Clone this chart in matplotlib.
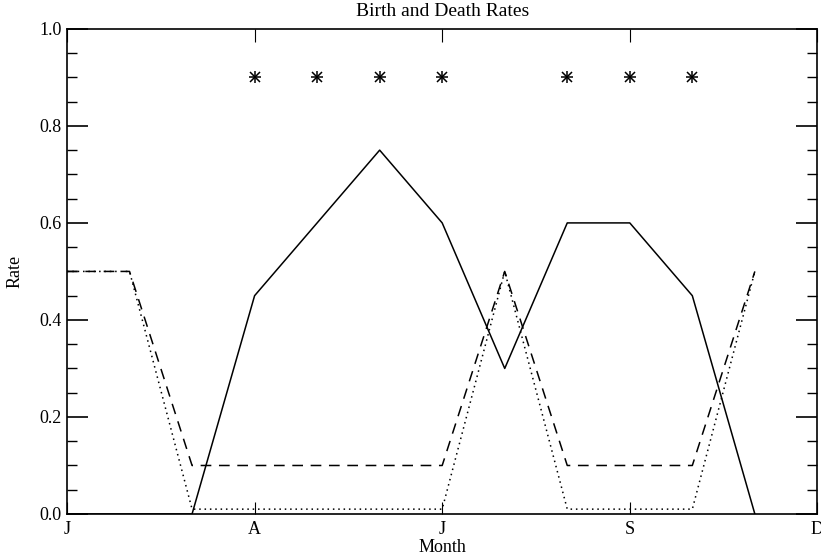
import matplotlib
matplotlib.use("Agg")
import matplotlib.pyplot as plt
from matplotlib.ticker import MultipleLocator

# monthly rates, month index 0..11
months = list(range(12))
birth = [0.0, 0.0, 0.0, 0.45, 0.6, 0.75, 0.6, 0.3, 0.6, 0.6, 0.45, 0.0]
death_a = [0.5, 0.5, 0.1, 0.1, 0.1, 0.1, 0.1, 0.5, 0.1, 0.1, 0.1, 0.5]
death_b = [0.5, 0.5, 0.01, 0.01, 0.01, 0.01, 0.01, 0.5, 0.01, 0.01, 0.01, 0.5]
star_x = [3, 4, 5, 6, 8, 9, 10]
star_y = [0.9] * len(star_x)
tick_pos = [0, 3, 6, 9, 12]
tick_labels = ["J", "A", "J", "S", "D"]

plt.rcParams["font.family"] = ["Liberation Serif", "DejaVu Serif"]

fig = plt.figure(figsize=(8.21, 5.57), dpi=100)
ax = fig.add_axes([0.0816, 0.0772, 0.914, 0.871])

ax.plot(months, birth, "-", color="black", lw=1.1)
ax.plot(months, death_a, color="black", lw=1.1, dashes=(7, 5))
ax.plot(months, death_b, color="black", lw=1.1, dashes=(1, 2.5))
ax.plot(star_x, star_y, ls="none", marker="+", ms=9, mew=1.1, color="black")
ax.plot(star_x, star_y, ls="none", marker="x", ms=7, mew=1.1, color="black")

ax.set_xlim(0, 12)
ax.set_ylim(0, 1.0)
ax.set_xticks(tick_pos)
ax.set_xticklabels(tick_labels)
ax.yaxis.set_major_locator(MultipleLocator(0.2))
ax.yaxis.set_minor_locator(MultipleLocator(0.05))
ax.yaxis.set_major_formatter(matplotlib.ticker.FormatStrFormatter("%.1f"))
ax.tick_params(axis="x", which="major", direction="in", length=9, width=0.8,
               top=True, pad=5, labelsize=13)
ax.tick_params(axis="y", which="major", direction="in", length=15, width=1.2,
               right=True, pad=4, labelsize=13)
ax.tick_params(axis="y", which="minor", direction="in", length=7, width=1.0,
               right=True)
for s in ax.spines.values():
    s.set_linewidth(1.2)

ax.set_title("Birth and Death Rates", fontsize=14, pad=9)
ax.set_xlabel("Month", fontsize=13, labelpad=1)
ax.set_ylabel("Rate", fontsize=13, labelpad=11)

fig.savefig("out.png", dpi=100)
